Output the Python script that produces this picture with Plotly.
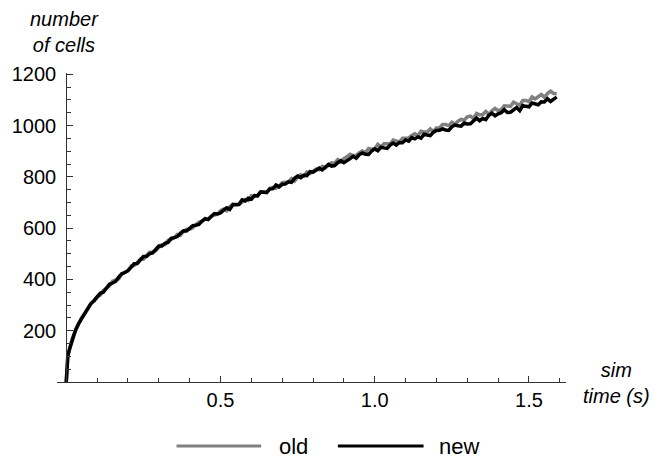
import plotly.graph_objects as go
import numpy as np

# sample times (s)
time_s = [0, 0.002, 0.005] + [round(0.01 * k, 2) for k in range(1, 160)]

# number of cells, "new" implementation (black)
new_cells = [0, 70, 100,
    126, 169, 202, 228, 248, 271, 287, 306, 317, 330,
    346, 350, 368, 381, 386, 392, 409, 422, 427, 434,
    447, 461, 462, 476, 489, 489, 500, 503, 519, 530,
    530, 541, 544, 560, 563, 567, 580, 590, 589, 600,
    610, 611, 614, 628, 636, 634, 646, 657, 655, 659,
    670, 679, 673, 691, 692, 693, 710, 706, 717, 713,
    727, 726, 741, 742, 740, 753, 754, 768, 761, 771,
    772, 781, 779, 794, 803, 797, 806, 805, 820, 818,
    826, 834, 827, 839, 849, 842, 844, 855, 863, 855,
    862, 871, 880, 873, 887, 893, 888, 887, 901, 909,
    902, 916, 913, 911, 924, 932, 924, 934, 933, 944,
    939, 953, 948, 956, 951, 966, 963, 961, 974, 981,
    982, 987, 983, 981, 995, 1002, 999, 998, 1010, 1006,
    1007, 1019, 1029, 1019, 1028, 1023, 1040, 1048, 1038, 1046,
    1050, 1062, 1051, 1052, 1063, 1070, 1058, 1078, 1075, 1073,
    1088, 1085, 1081, 1093, 1092, 1105, 1094, 1103, 1111]

# number of cells, "old" implementation (gray)
old_cells = [0, 70, 100,
    124, 172, 201, 226, 251, 268, 288, 306, 317, 332,
    339, 357, 366, 374, 393, 397, 402, 421, 429, 434,
    452, 455, 465, 479, 479, 494, 506, 507, 512, 525,
    535, 536, 553, 556, 562, 575, 572, 586, 596, 596,
    601, 613, 623, 625, 638, 634, 647, 651, 654, 668,
    674, 668, 684, 694, 690, 692, 704, 712, 708, 726,
    724, 726, 742, 740, 738, 755, 758, 756, 763, 777,
    778, 780, 793, 784, 799, 808, 803, 818, 813, 820,
    830, 828, 841, 835, 847, 855, 853, 867, 858, 871,
    879, 888, 883, 884, 894, 901, 894, 911, 908, 909,
    927, 916, 929, 929, 929, 944, 939, 936, 951, 953,
    952, 961, 968, 961, 978, 975, 975, 987, 977, 991,
    992, 1004, 1004, 1000, 1013, 1005, 1017, 1024, 1021, 1034,
    1037, 1028, 1047, 1042, 1042, 1055, 1043, 1058, 1067, 1058,
    1062, 1077, 1076, 1075, 1091, 1085, 1079, 1098, 1098, 1093,
    1112, 1104, 1111, 1121, 1110, 1125, 1134, 1125, 1124]

x_tick_vals = [0.5, 1.0, 1.5]
x_tick_text = ["0.5", "1.0", "1.5"]
y_tick_vals = [200, 400, 600, 800, 1000, 1200]
y_tick_text = ["200", "400", "600", "800", "1000", "1200"]
series_names = ["old", "new"]
series_colors = ["#808080", "#000000"]

W, H = 655, 459
ML, MR, MT, MB = 55, 89, 73, 77
PW, PH = W - ML - MR, H - MT - MB
X_RANGE = [-0.03, 1.62]
Y_RANGE = [0, 1205]

def px_to_paper_x(px):
    return (px - ML) / PW

def px_to_paper_y(py):
    return (H - MB - py) / PH

FONT = "Liberation Sans, Arial, sans-serif"

fig = go.Figure()
fig.add_trace(go.Scatter(x=time_s, y=old_cells, mode="lines", name=series_names[0],
                         line=dict(color=series_colors[0], width=3.5), showlegend=False))
fig.add_trace(go.Scatter(x=time_s, y=new_cells, mode="lines", name=series_names[1],
                         line=dict(color=series_colors[1], width=3.5), showlegend=False))

x_minor = [round(v, 1) for v in np.arange(0.1, 1.61, 0.1) if round(v, 1) not in x_tick_vals]
y_minor = [v for v in range(50, 1201, 50) if v not in y_tick_vals]

axis_color = "#333333"
fig.update_layout(
    width=W, height=H,
    margin=dict(l=ML, r=MR, t=MT, b=MB),
    paper_bgcolor="white", plot_bgcolor="white",
    font=dict(family=FONT, color="black", size=20),
    xaxis=dict(
        range=X_RANGE, domain=[0, 1], showgrid=False, zeroline=False,
        showline=True, linecolor=axis_color, linewidth=1,
        anchor="y",
        tickmode="array", tickvals=x_tick_vals, ticktext=x_tick_text,
        ticks="inside", ticklen=6, tickcolor=axis_color, tickwidth=1,
        minor=dict(tickmode="array", tickvals=x_minor, ticks="inside", ticklen=4,
                   tickcolor=axis_color, tickwidth=1, showgrid=False),
        tickfont=dict(family=FONT, size=20, color="black"),
        ticklabelstandoff=0,
    ),
    yaxis=dict(
        range=Y_RANGE, showgrid=False, zeroline=False,
        showline=True, linecolor=axis_color, linewidth=1,
        anchor="free", position=px_to_paper_x(ML + (0 - X_RANGE[0]) / (X_RANGE[1] - X_RANGE[0]) * PW),
        tickmode="array", tickvals=y_tick_vals, ticktext=y_tick_text,
        ticks="inside", ticklen=6, tickcolor=axis_color, tickwidth=1,
        minor=dict(tickmode="array", tickvals=y_minor, ticks="inside", ticklen=4,
                   tickcolor=axis_color, tickwidth=1, showgrid=False),
        tickfont=dict(family=FONT, size=20, color="black"),
        ticklabelstandoff=6,
    ),
)

fig.add_annotation(text="<i>number<br>of cells</i>", xref="paper", yref="paper",
                   x=px_to_paper_x(63), y=px_to_paper_y(32), xanchor="center", yanchor="middle",
                   showarrow=False, font=dict(family=FONT, size=20, color="black"))
fig.add_annotation(text="<i>sim<br>time (s)</i>", xref="paper", yref="paper",
                   x=px_to_paper_x(617), y=px_to_paper_y(383), xanchor="center", yanchor="middle",
                   showarrow=False, font=dict(family=FONT, size=20, color="black"))

# legend drawn manually (Mathematica-style wide swatches)
leg_y = px_to_paper_y(446)
swatches = [(175, 260, 276), (337, 423, 436)]
for (x0, x1, tx), name, col in zip(swatches, series_names, series_colors):
    fig.add_shape(type="line", xref="paper", yref="paper",
                  x0=px_to_paper_x(x0), x1=px_to_paper_x(x1), y0=leg_y, y1=leg_y,
                  line=dict(color=col, width=3))
    fig.add_annotation(text=name, xref="paper", yref="paper",
                       x=px_to_paper_x(tx), y=leg_y, xanchor="left", yanchor="middle",
                       showarrow=False, font=dict(family=FONT, size=22, color="black"))

fig.write_html("out.html")
